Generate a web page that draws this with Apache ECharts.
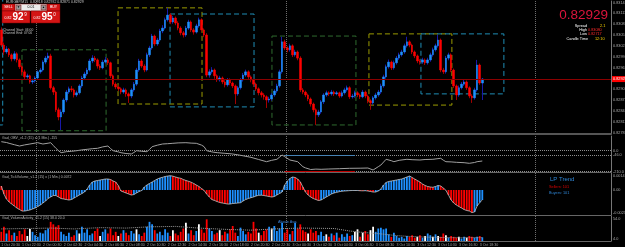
<!DOCTYPE html>
<html>
<head>
<meta charset="utf-8">
<script src="https://cdn.jsdelivr.net/npm/echarts@6/dist/echarts.min.js"></script>
<style>
  html, body { margin: 0; padding: 0; background: #000; }
  #chart { width: 625px; height: 247px; }
</style>
</head>
<body>
<div id="chart"></div>
<script>
// prices are kept in points (1 point = 0.00001)
const PT = 1e-5;
const firstOpenPt = 83065;
const closePts = [83023,83004,83012,82996,82985,82999,82982,82963,82949,82935,82938,82921,82924,82932,82949,82954,82976,82987,82993,82905,
  82893,82844,82824,82838,82871,82893,82902,82899,82885,82891,82910,82932,82943,82954,82979,82987,82982,82965,82960,82976,
  82982,82974,82938,82915,82907,82902,82893,82899,82888,82882,82899,82915,82954,82979,82965,82954,82996,83015,83048,83026,
  83037,83062,83070,83093,83106,83087,83098,83084,83070,83057,83051,83070,83087,83065,83059,83076,83093,83065,83051,82940,
  82949,82954,82938,82927,82932,82921,82913,82927,82918,82910,82888,82905,82927,82940,82949,82935,82927,82915,82902,82891,
  82885,82880,82871,82874,82885,82896,82910,82949,83032,83015,83010,83021,82996,83004,82987,82899,82893,82885,82874,82860,
  82844,82830,82838,82866,82885,82891,82888,82893,82888,82891,82882,82891,82899,82905,82880,82882,82891,82885,82880,82893,
  82882,82869,82863,82877,82885,82893,82910,82935,82963,82976,82960,82974,82987,82996,83004,83021,83032,83023,83004,82993,
  82979,82976,82982,82974,82982,82996,83010,83021,83037,82954,82949,82987,82996,82954,82910,82885,82905,82915,82921,82905,
  82882,82877,82899,82968,82918,82929];
const highPts = [83072,83030,83020,83015,83000,83006,83003,82986,82967,82955,82944,82941,82930,82937,82953,82960,82981,82993,83002,82999,
  82910,82897,82850,82845,82876,82899,82908,82910,82903,82897,82915,82938,82949,82960,82985,82995,82993,82986,82970,82982,
  82990,82987,82977,82942,82920,82912,82906,82905,82903,82892,82904,82921,82960,82985,82984,82970,83002,83021,83054,83052,
  83043,83068,83078,83099,83126,83111,83104,83102,83089,83075,83062,83076,83093,83091,83070,83082,83099,83097,83069,83056,
  82956,82962,82958,82942,82938,82936,82926,82932,82931,82922,82914,82910,82932,82946,82955,82953,82939,82930,82919,82906,
  82896,82890,82884,82880,82890,82901,82916,82955,83046,83038,83020,83027,83025,83010,83008,82992,82904,82897,82889,82878,
  82864,82848,82844,82871,82890,82897,82895,82899,82897,82896,82894,82897,82905,82911,82909,82888,82897,82895,82889,82899,
  82897,82886,82873,82882,82891,82899,82916,82941,82969,82983,82980,82980,82993,83002,83010,83027,83046,83036,83027,83008,
  82997,82984,82988,82986,82988,83002,83016,83027,83051,83041,82960,82993,83002,83000,82958,82914,82911,82921,82927,82925,
  82909,82887,82905,82982,82972,82932];
const lowPts = [83018,82996,82999,82990,82978,82980,82975,82957,82940,82928,82930,82916,82915,82919,82928,82944,82950,82970,82982,82900,
  82885,82838,82815,82788,82832,82865,82888,82893,82878,82880,82886,82905,82927,82938,82950,82973,82976,82958,82954,82956,
  82972,82968,82932,82909,82901,82896,82887,82888,82880,82863,82876,82894,82910,82949,82960,82948,82950,82990,83010,83020,
  83021,83032,83056,83066,83088,83081,83082,83078,83064,83050,83044,83046,83065,83059,83052,83055,83071,83060,83045,82934,
  82933,82944,82930,82921,82922,82915,82906,82908,82912,82904,82860,82883,82900,82922,82935,82929,82920,82908,82896,82884,
  82878,82872,82849,82864,82869,82880,82891,82905,82944,83009,83003,83005,82990,82991,82981,82893,82887,82879,82868,82853,
  82837,82802,82824,82833,82860,82880,82882,82883,82882,82884,82877,82878,82886,82894,82874,82875,82877,82879,82874,82876,
  82876,82862,82844,82858,82872,82880,82888,82905,82930,82958,82954,82955,82969,82982,82991,82999,83016,83017,82998,82987,
  82973,82969,82971,82968,82969,82977,82991,83005,83016,82948,82943,82944,82981,82948,82904,82871,82880,82900,82910,82899,
  82876,82863,82872,82894,82913,82871];
const askPt = 82915;
const priceTickPts = [82781,82811,82841,82871,82901,82931,82961,82991,83021,83051,83081,83111,83141];

// session boxes: [fromBar, toBar, lowPt, highPt, kind]  kind 0 green, 1 yellow, 2 cyan
const boxes = [[-31.5,0.54,82802,83170,2],[7.96,40.3,82786,83010,0],[44.9,77.2,82860,83126,1],[64.9,97.2,82852,83109,2],
  [104.1,136.4,82802,83048,0],[141.4,173.3,82857,83054,1],[161.4,193.3,82888,83054,2]];
const boxColors = ['#2f6b2f', '#9b9b00', '#1f8db5'];

// OBV line read at [bar, value]
const obvPts = [[0,90],[2,82],[3,74],[5,60],[7,47],[9,58],[11,67],[13,76],[14,80],[16,67],[18,75],[19,80],[20,52],[21,24],[22,0],
  [23,-20],[25,-10],[27,-6],[29,0],[31,8],[33,14],[35,20],[37,24],[39,38],[41,47],[42,22],[43,0],[45,-12],[46,-20],[48,-28],
  [50,-33],[51,-18],[52,0],[54,-6],[56,-10],[57,12],[58,40],[60,55],[62,67],[64,70],[66,74],[68,78],[71,80],[73,76],[75,74],
  [77,56],[78,40],[79,0],[81,-12],[83,-20],[86,-26],[89,-33],[92,-46],[96,-66],[99,-88],[102,-110],[104,-96],[106,-86],[108,-43],
  [109,-60],[111,-93],[114,-110],[116,-160],[117,-172],[119,-188],[121,-184],[123,-186],[126,-183],[130,-180],[134,-176],
  [138,-175],[141,-173],[143,-193],[145,-160],[146,-143],[148,-86],[150,-100],[151,-110],[153,-96],[156,-86],[158,-90],
  [161,-93],[163,-88],[166,-86],[169,-76],[170,-95],[171,-110],[173,-112],[175,-116],[178,-120],[180,-126],[182,-118],
  [183,-110],[185,-103]];
const obvLevels = [0, -46, -210];
const obvChannel = [109, 136, -44, -203];

// tick volume oscillator, units of 0.0001
const histVals = [4,-4,-9,-12,-14,-16,-18,-19.5,-21,-21,-20.5,-20,-19,-18,-16.5,-15,-13,-11,-8.5,-7,
  -5.5,-5.5,-7,-8.5,-9,-9.5,-10,-9.5,-8,-6.5,-5,-3.5,-2,1,5,8,9,9.5,10,10.5,
  11,11,10.5,9,8,4.5,-1,-2,-3,-4,-5,-4.5,-3,-1.5,-0.5,3,5,6.5,8,9.5,
  11,12,12.7,13.5,14,14.3,13.8,13,12.2,11.7,10.5,9.5,8.7,7.8,6.5,5,3.5,1.5,-0.5,-4,
  -7,-9.5,-10.5,-11.5,-12.5,-13,-13.5,-14,-14,-13.5,-13.3,-13,-12.7,-11,-9.5,-8.5,-7.7,-7,-6,-5.3,
  -5.2,-5.5,-6,-6.5,-7,-6.5,-5,-3.5,-2,5,9,11.5,13,12.5,11,8,3,-2,-5,-7,
  -8.5,-9.5,-10.5,-10,-8.5,-7,-5.5,-4,-3,-2.3,-1.7,-1.2,-1,-0.8,-0.6,-0.5,-0.5,-0.5,-0.7,-0.8,
  -0.7,-1,-1.5,-2,-2,-1,1,5,7.5,8.5,9,9.5,10,10.5,11,12,13,14,12.5,11,
  9.5,8,6,4.5,3.5,3,2.7,3.5,4.5,4,2,-0.3,-5,-10,-13,-15,-16.5,-18,-19.5,-20.5,
  -21,-22.5,-22,-16,-12.5,-10];
const histTicks = [14, 0, -23];

const volumes = [22,34,18,26,14,20,12,24, 16,28,12,29,22,14,10,20, 18,26,30,46,40,34,38,22, 16,12,20,10,14,26,18,34,
  20,28,14,18,24,30,12,22, 28,18,30,14,22,12,18,26, 20,14,24,18,28,16,12,20, 34,46,40,26,18,22,14,28,
  20,12,26,18,14,22,30,44, 18,26,14,24,40,28,20,52, 30,24,16,20,26,14,22,18, 28,36,20,12,32,24,16,22,
  18,46,30,20,14,24,28,34, 30,36,24,30,44,20,28,16, 24,44,30,40,26,22,18,28, 20,24,14,22,12,16,10,18,
  14,20,8,16,10,18,12,14, 22,28,10,20,24,16,26,34, 22,30,32,28,30,16,10,20, 12,8,10,6,12,10,14,8,
  10,14,8,12,18,14,10,16, 12,10,18,14,8,12,10,8, 10,6,10,8,12,10,8,10,12,9];
const volWhite = [10,11,30,38,45,52,66,71,76,84,99,104,118,125,136,137,139,142,143,160,163,166,168,171,176,179];
const volAvgPts = [[0,29],[10,30],[19,31],[28,29],[38,32],[48,31],[57,34],[67,35],[76,31],[86,28],[96,26],[105,29],
  [115,31],[128,30],[134,24],[140,20],[146,17],[152,13],[157,11],[165,9],[173,8],[185,8]];
const volTicks = [54, 4];

const xLabels = ['1 Oct 20:30','1 Oct 22:30','2 Oct 00:30','2 Oct 02:30','2 Oct 04:30','2 Oct 06:30','2 Oct 08:30','2 Oct 10:30',
  '2 Oct 12:30','2 Oct 14:30','2 Oct 16:30','2 Oct 18:30','2 Oct 20:30','2 Oct 22:30','3 Oct 00:30','3 Oct 02:30',
  '3 Oct 04:30','3 Oct 06:30','3 Oct 08:30','3 Oct 10:30','3 Oct 12:30','3 Oct 14:30','3 Oct 16:30','3 Oct 18:30'];
const sessionStarts = [14, 110, 206];
const N = 235; // bar slots incl. empty right shift

const BLUE = '#1e90ff', RED = '#ff0000';
const FONT = 'Liberation Sans';
const fmtPrice = (p) => (p * PT).toFixed(5);

const cats = Array.from({ length: N }, (_, i) => String(i));
const opens = closePts.map((c, i) => (i === 0 ? firstOpenPt : closePts[i - 1]));
const wickData = closePts.map((c, i) => [opens[i], c, lowPts[i], highPts[i]]);
const bodyData = closePts.map((c, i) => [opens[i], c, Math.min(opens[i], c), Math.max(opens[i], c)]);
const lastPt = closePts[closePts.length - 1];

const chart = echarts.init(document.getElementById('chart'));

const sep = { show: true, interval: (i) => sessionStarts.includes(i), lineStyle: { color: '#6e6e6e', type: 'dotted', width: 1 } };
const catAxis = (gi, extra) => Object.assign({
  type: 'category', gridIndex: gi, data: cats, boundaryGap: true,
  axisTick: { show: false }, axisLabel: { show: false },
  axisLine: { show: true, onZero: false, lineStyle: { color: '#666', width: 1 } }, splitLine: sep
}, extra || {});
const valAxis = (gi) => ({ type: 'value', gridIndex: gi, min: -0.5, max: N - 0.5, show: false, axisLine: { show: false, onZero: false }, splitLine: { show: false } });
const yAxisBase = (gi, extra) => Object.assign({
  type: 'value', gridIndex: gi, position: 'right', splitLine: { show: false }, axisTick: { show: false },
  axisLine: { show: true, onZero: false, lineStyle: { color: '#777' } }
}, extra || {});
const yLabel = (vals, fmt) => ({ show: true, customValues: vals, formatter: fmt, color: '#a8a8a8', fontSize: 3.8, fontFamily: FONT, margin: 2 });
const g = { left: 0, right: 14, outerBoundsMode: 'none', containLabel: false };

const txt = (x, y, text, fill, size, align, weight) => ({
  type: 'text', x, y, silent: true, z: 20,
  style: { text, fill, font: (weight || 'normal') + ' ' + size + 'px "' + FONT + '"', align: align || 'left', verticalAlign: 'middle', textAlign: align || 'left', textVerticalAlign: 'middle' }
});
const box = (x, y, w, h, fill) => ({ type: 'rect', silent: true, z: 19, shape: { x, y, width: w, height: h }, style: { fill, stroke: '#7a0000', lineWidth: 0.5 } });
const axisTag = (value, bg, fg) => ({ show: true, position: 'end', distance: 1, formatter: fmtPrice(value), backgroundColor: bg, color: fg, fontSize: 3.8, fontFamily: FONT, padding: [1, 1] });

chart.setOption({
  backgroundColor: '#000',
  animation: false,
  grid: [
    Object.assign({ top: 1, height: 133 }, g),
    Object.assign({ top: 136, height: 36 }, g),
    Object.assign({ top: 173, height: 42 }, g),
    Object.assign({ top: 216, height: 25 }, g)
  ],
  xAxis: [
    catAxis(0, { axisLine: { show: true, onZero: false, lineStyle: { color: '#555', width: 2 } } }),
    valAxis(0),
    catAxis(1),
    valAxis(1),
    catAxis(2),
    catAxis(3, { axisLabel: { show: true, interval: 7, color: '#a0a0a0', fontSize: 3.6, fontFamily: FONT, align: 'left', margin: 2,
      formatter: (v, idx) => xLabels[idx / 8] || '' } }),
    valAxis(3)
  ],
  yAxis: [
    yAxisBase(0, { min: 82777, max: 83145, axisLabel: yLabel(priceTickPts, fmtPrice) }),
    yAxisBase(1, { min: -213, max: 147, axisLabel: yLabel(obvLevels, v => v.toFixed(1)) }),
    yAxisBase(2, { min: -25, max: 17, axisLabel: yLabel(histTicks, v => (v === 0 ? '0.00' : (v / 1e4).toFixed(4))) }),
    yAxisBase(3, { min: 0, max: 60, axisLabel: yLabel(volTicks, v => v.toFixed(1)) })
  ],
  series: [
    {
      type: 'custom', xAxisIndex: 1, yAxisIndex: 0, silent: true, z: 1,
      data: boxes,
      encode: { x: [0, 1], y: [2, 3] },
      renderItem: (params, api) => {
        const a = api.coord([api.value(0), api.value(3)]);
        const b = api.coord([api.value(1), api.value(2)]);
        return { type: 'rect', shape: { x: a[0], y: a[1], width: b[0] - a[0], height: b[1] - a[1] },
          style: { fill: 'none', stroke: boxColors[api.value(4)], lineWidth: 1, lineDash: [5, 3] } };
      }
    },
    {
      type: 'candlestick', xAxisIndex: 0, yAxisIndex: 0, data: wickData, barWidth: 1, silent: true, z: 2,
      itemStyle: { color: '#1818a8', color0: '#a00000', borderColor: '#1818a8', borderColor0: '#a00000', borderWidth: 1 }
    },
    {
      type: 'candlestick', xAxisIndex: 0, yAxisIndex: 0, data: bodyData, barWidth: 2, silent: true, z: 3,
      itemStyle: { color: BLUE, color0: RED, borderColor: BLUE, borderColor0: RED, borderWidth: 0.5 },
      markLine: {
        symbol: 'none', silent: true, animation: false, precision: 0,
        data: [
          { yAxis: lastPt, lineStyle: { color: '#8b0000', width: 1, type: 'solid' }, label: axisTag(lastPt, '#ff0000', '#fff') },
          { yAxis: askPt, lineStyle: { opacity: 0, width: 0 }, label: axisTag(askPt, '#b8b8b8', '#000') }
        ]
      }
    },
    {
      type: 'line', xAxisIndex: 3, yAxisIndex: 1, data: obvPts, symbol: 'none', silent: true,
      lineStyle: { color: '#a0a0a0', width: 1 },
      markLine: {
        symbol: 'none', silent: true, label: { show: false }, precision: 0,
        data: [
          ...obvLevels.map(v => ({ yAxis: v, lineStyle: { color: '#8c8c8c', type: 'dotted', width: 1 } })),
          [{ coord: [obvChannel[0], obvChannel[2]], lineStyle: { color: '#4682b4', type: 'solid', width: 1 } },
           { coord: [obvChannel[1], obvChannel[2]], lineStyle: { color: '#4682b4', type: 'solid', width: 1 } }],
          [{ coord: [obvChannel[0], obvChannel[3]], lineStyle: { color: '#c00000', type: 'solid', width: 1 } },
           { coord: [obvChannel[1], obvChannel[3]], lineStyle: { color: '#c00000', type: 'solid', width: 1 } }]
        ]
      }
    },
    {
      type: 'bar', xAxisIndex: 4, yAxisIndex: 2, data: histVals, barWidth: 1.8, silent: true,
      itemStyle: { color: (p) => (p.dataIndex > 0 && histVals[p.dataIndex] >= histVals[p.dataIndex - 1] ? BLUE : RED) }
    },
    {
      type: 'line', xAxisIndex: 4, yAxisIndex: 2, data: histVals, symbol: 'none', silent: true,
      lineStyle: { color: '#c4c4c4', width: 0.8 }
    },
    {
      type: 'bar', xAxisIndex: 5, yAxisIndex: 3, data: volumes, barWidth: 1.8, silent: true,
      itemStyle: { color: (p) => (volWhite.includes(p.dataIndex) ? '#ffffff' : (closePts[p.dataIndex] >= opens[p.dataIndex] ? BLUE : RED)) }
    },
    {
      type: 'line', xAxisIndex: 6, yAxisIndex: 3, data: volAvgPts, symbol: 'none', silent: true,
      lineStyle: { color: '#9a9a9a', type: 'dotted', width: 1 }
    }
  ],
  graphic: [
    txt(6, 2.5, 'EURGBP,M15  0.82918 0.82932 0.82871 0.82929', '#c8c8c8', 3.5),
    box(2, 4, 13, 7, '#d41515'), txt(8.5, 7.5, 'SELL', '#fff', 3.5, 'center'),
    box(15, 4, 32, 7, '#ececec'),
    box(16, 5, 5, 5, '#9a9a9a'), txt(18.5, 7.5, '▼', '#000', 3, 'center'),
    box(41, 5, 5, 5, '#9a9a9a'), txt(43.5, 7.5, '▲', '#000', 3, 'center'),
    txt(31, 7.5, '0.01', '#000', 3.5, 'center'),
    box(47, 4, 13, 7, '#d41515'), txt(53.5, 7.5, 'BUY', '#fff', 3.5, 'center'),
    box(2, 11, 28, 12, '#d41515'),
    txt(8, 18.5, '0.82', '#fff', 3.5, 'center'), txt(18, 17.5, '92', '#fff', 10, 'center', 'bold'), txt(25.5, 14.5, '9', '#fff', 4.5, 'center'),
    box(31, 11, 29, 12, '#d41515'),
    txt(37, 18.5, '0.82', '#fff', 3.5, 'center'), txt(47, 17.5, '95', '#fff', 10, 'center', 'bold'), txt(54.5, 14.5, '0', '#fff', 4.5, 'center'),
    txt(3, 30, 'Channel Start: 06:00', '#c0c0c0', 3.3),
    txt(3, 33.5, 'Channel End: 07:00', '#c0c0c0', 3.3),
    txt(608, 15, '0.82929', '#dc143c', 13.5, 'right'),
    txt(587, 25.5, 'Spread', '#fff', 3.8, 'right'), txt(600, 25.5, '2.1', '#ffd700', 3.8),
    txt(587, 30, 'High', '#fff', 3.8, 'right'), txt(588, 30, '0.83080', '#ff2a2a', 3.8),
    txt(587, 34, 'Low', '#fff', 3.8, 'right'), txt(588, 34, '0.82717', '#ff2a2a', 3.8),
    txt(588, 39, 'Candle Time', '#fff', 3.8, 'right'), txt(595, 39, '12:10', '#ffd700', 3.8),
    txt(2, 138.5, 'Gad_OBV_v1.2 (15) x (1 Min.) -155', '#b0b0b0', 3.5),
    txt(2, 177, 'Gad_TickVolume_v1.2 (15) x (1 Min.) 0.0072', '#b0b0b0', 3.5),
    txt(2, 218.5, 'Gad_VolumeActivity_v1.2 (15) 38.0 20.0', '#b0b0b0', 3.5),
    txt(278, 222, 'Above Avg.', '#3a7fd0', 3.8),
    txt(550, 179, 'LP Trend', '#2f86d6', 6),
    txt(549, 186.5, 'Sellers: 101', '#e00000', 3.8),
    txt(549, 192.5, 'Buyers: 101', '#2f86d6', 3.8)
  ]
});
</script>
</body>
</html>
